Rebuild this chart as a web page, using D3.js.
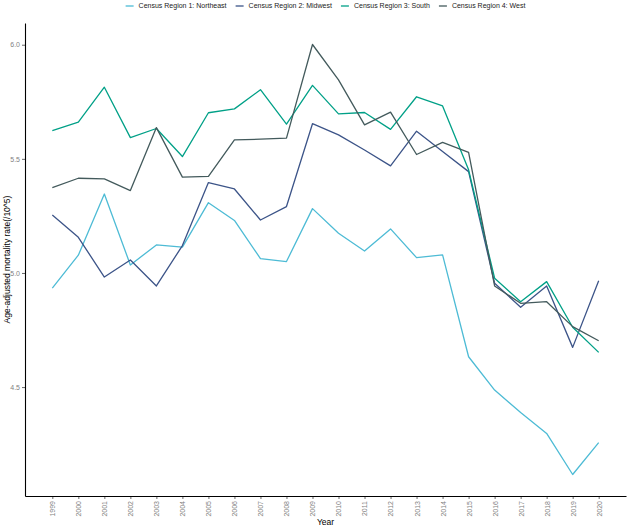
<!DOCTYPE html>
<html>
<head>
<meta charset="utf-8">
<script src="https://cdn.jsdelivr.net/npm/d3@7"></script>
<style>
  body { margin: 0; background: #fff; }
  svg { font-family: "Liberation Sans", Arial, sans-serif; }
  .axis path, .axis line { stroke: #000; }
  .axis text { fill: #7f7f7f; font-size: 7px; }
</style>
</head>
<body>
<svg id="chart" width="628" height="528"></svg>
<script>
// data
var years = d3.range(1999, 2021);
var regions = ["Census Region 1: Northeast", "Census Region 2: Midwest", "Census Region 3: South", "Census Region 4: West"];
var colors = ["#4DBBD5", "#3C5488", "#00A087", "#435A5C"];

var northeast = [4.934, 5.078, 5.346, 5.035, 5.123, 5.113, 5.308, 5.230, 5.063, 5.050, 5.282,
                 5.174, 5.096, 5.193, 5.067, 5.079, 4.633, 4.487, 4.389, 4.297, 4.117, 4.257];
var midwest   = [5.254, 5.156, 4.982, 5.057, 4.943, 5.120, 5.396, 5.368, 5.232, 5.291, 5.654,
                 5.605, 5.539, 5.469, 5.621, 5.532, 5.444, 4.955, 4.850, 4.943, 4.674, 4.966];
var south     = [5.624, 5.661, 5.814, 5.593, 5.633, 5.510, 5.702, 5.719, 5.803, 5.652, 5.822,
                 5.697, 5.703, 5.629, 5.772, 5.732, 5.452, 4.977, 4.874, 4.962, 4.762, 4.652];
var west      = [5.374, 5.415, 5.412, 5.361, 5.637, 5.420, 5.423, 5.583, 5.586, 5.591, 6.001,
                 5.846, 5.649, 5.705, 5.519, 5.572, 5.528, 4.943, 4.867, 4.874, 4.765, 4.703];
var yTicks = [4.5, 5.0, 5.5, 6.0];

var series = [northeast, midwest, south, west];

var svg = d3.select('#chart');
var margin = {top: 23, right: 2, bottom: 32, left: 25};
var w = 628 - margin.left - margin.right;
var h = 528 - margin.top - margin.bottom;

var g = svg.append("g")
    .attr("transform", "translate(" + margin.left + "," + margin.top + ")");

// ggplot-style 5% expansion
var xPad = (years[years.length - 1] - years[0]) * 0.05;
var x = d3.scaleLinear()
    .domain([years[0] - xPad, years[years.length - 1] + xPad])
    .range([0, w]);

var allVals = d3.merge(series);
var yExt = d3.extent(allVals);
var yPad = (yExt[1] - yExt[0]) * 0.05;
var y = d3.scaleLinear()
    .domain([yExt[0] - yPad, yExt[1] + yPad])
    .range([h, 0]);

var line = d3.line()
    .x(function(d, i) { return x(years[i]); })
    .y(function(d) { return y(d); });

g.selectAll(".series")
    .data(series)
    .enter().append("path")
    .attr("class", "series")
    .attr("fill", "none")
    .attr("stroke", function(d, i) { return colors[i]; })
    .attr("stroke-width", 1.3)
    .attr("stroke-linejoin", "round")
    .attr("d", line);

// axes
var xAxis = g.append("g")
    .attr("class", "axis")
    .attr("transform", "translate(0," + h + ")")
    .call(d3.axisBottom(x).tickValues(years).tickFormat(d3.format("d")).tickSize(3).tickSizeOuter(0));
xAxis.select(".domain").attr("stroke-width", 1.1);
xAxis.selectAll(".tick line").attr("stroke", "#333").attr("stroke-width", 0.6);
xAxis.selectAll("text")
    .attr("transform", "rotate(-90)")
    .attr("text-anchor", "end")
    .attr("x", -5)
    .attr("y", 0)
    .attr("dy", "0.35em");

var yAxis = g.append("g")
    .attr("class", "axis")
    .call(d3.axisLeft(y).tickValues(yTicks).tickFormat(d3.format(".1f")).tickSize(3).tickSizeOuter(0));
yAxis.select(".domain").attr("stroke-width", 1.1);
yAxis.selectAll(".tick line").attr("stroke", "#333").attr("stroke-width", 0.6);
yAxis.selectAll("text").attr("x", -5);

// axis titles
svg.append("text")
    .attr("x", margin.left + w / 2)
    .attr("y", 525)
    .attr("text-anchor", "middle")
    .attr("font-size", 8.5)
    .attr("fill", "#000")
    .text("Year");

svg.append("text")
    .attr("transform", "translate(10," + (margin.top + h / 2) + ") rotate(-90)")
    .attr("text-anchor", "middle")
    .attr("font-size", 8.5)
    .attr("fill", "#000")
    .text("Age-adjusted mortality rate(/10^5)");

// legend, centred over the panel
var legend = svg.append("g");
var keyW = 8, keyGap = 5, itemGap = 9, fs = 7;
var items = legend.selectAll(".item")
    .data(regions)
    .enter().append("g")
    .attr("class", "item");
items.append("line")
    .attr("x1", 0).attr("x2", keyW)
    .attr("y1", 0).attr("y2", 0)
    .attr("stroke", function(d, i) { return colors[i]; })
    .attr("stroke-width", 1.3);
items.append("text")
    .attr("x", keyW + keyGap)
    .attr("y", 0)
    .attr("dy", "0.35em")
    .attr("font-size", fs)
    .attr("fill", "#222")
    .text(function(d) { return d; });

var offs = 0, widths = [];
items.each(function() {
    var bw = this.getBBox().width;
    widths.push(offs);
    offs += bw + itemGap;
});
var total = offs - itemGap;
items.attr("transform", function(d, i) { return "translate(" + widths[i] + ",0)"; });
legend.attr("transform", "translate(" + (margin.left + w / 2 - total / 2) + ",6)");
</script>
</body>
</html>
